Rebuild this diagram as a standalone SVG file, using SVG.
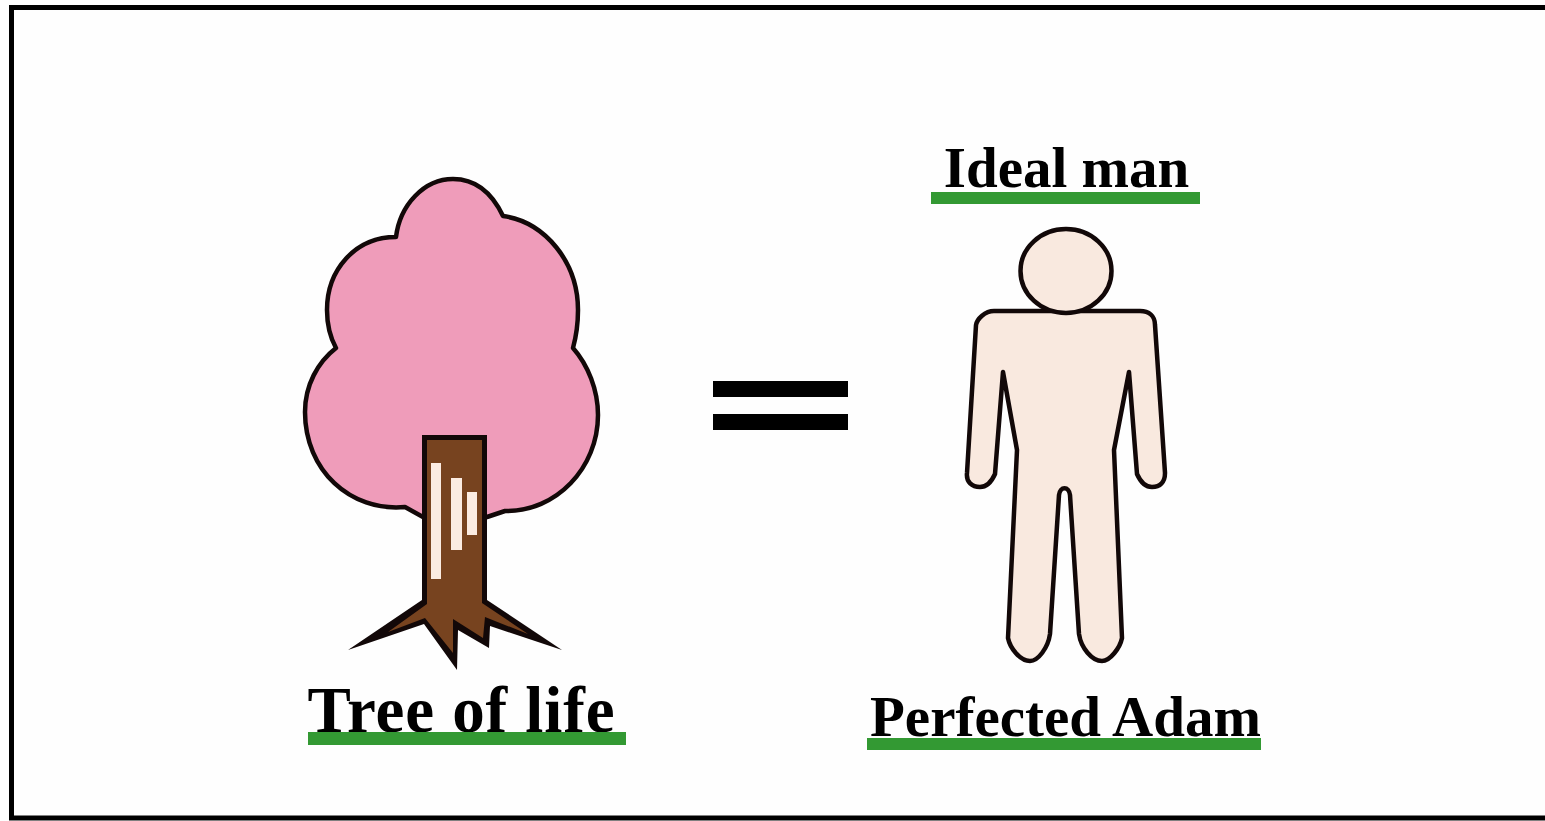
<svg xmlns="http://www.w3.org/2000/svg" width="1545" height="821" viewBox="0 0 1545 821">
<style>
.t{font-family:"Liberation Serif",serif;font-weight:bold;fill:#000;text-anchor:middle}
.u{fill:#339933}
.o{stroke:#120808;stroke-width:4.500;stroke-linejoin:round}
.w{fill:#fbece2}
</style>
<rect width="1545" height="821" fill="#fefefe"/>
<path d="M1545 7.500H11.500V818H1545" fill="none" stroke="#000" stroke-width="5"/>
<g id="tree">
<path class="o" fill="#ef9cba" d="M396 237C400 205 424 179 453 179C478 179 493 195 503 216C545 222 578 262 578 310C578 325 576 337 573 348C588 365 598 390 598 415C598 468 556 512 505 511L487 517L423 517L405 507C350 512 305 470 305 412C305 385 318 362 336 348C330 337 327 325 327 310C327 270 355 237 396 237Z"/>
<path fill="#120808" d="M422 435H487V600L562 650L490 626L489 648L458 630L457 670L424 624L348 650L422 600Z"/>
<path fill="#77431f" d="M427 440H482V603L528 634L485 617L483 638L453 619L453 653L425 618L388 632L427 604Z"/>
<rect x="431" y="463" width="10" height="116" class="w"/>
<rect x="451" y="478" width="11" height="72" class="w"/>
<rect x="467" y="492" width="10" height="43" class="w"/>
</g>
<g id="equals">
<rect x="713" y="381" width="135" height="16"/>
<rect x="713" y="414" width="135" height="16"/>
</g>
<g id="man">
<path class="o" fill="#f9e9df" d="M1066 311H1140C1149 311 1155 316 1155 325L1165 473C1165 482 1160 487 1152 487C1146 487 1141 483 1137 474L1129 372L1114 450L1122 638C1120 648 1110 661 1102 661C1092 661 1081 648 1079 634L1070 495C1069 486 1060 486 1059 495L1050 634C1048 648 1038 661 1030 661C1020 661 1010 648 1008 638L1017 450L1003 372L995 474C991 483 986 487 980 487C972 487 966 482 967 473L976 325C977 319 985 311 994 311Z"/>
<ellipse cx="1066" cy="271" rx="45.500" ry="42" class="o" fill="#f9e9df"/>
</g>
<g id="labels">
<text class="t" x="1066.500" y="187" font-size="57">Ideal man</text>
<rect class="u" x="931" y="192" width="269" height="12"/>
<text class="t" x="461.500" y="732" font-size="65" letter-spacing="0.900">Tree of life</text>
<rect class="u" x="308" y="732" width="318" height="13"/>
<text class="t" x="1065.500" y="736" font-size="57">Perfected Adam</text>
<rect class="u" x="867" y="738" width="394" height="12"/>
</g>
</svg>
